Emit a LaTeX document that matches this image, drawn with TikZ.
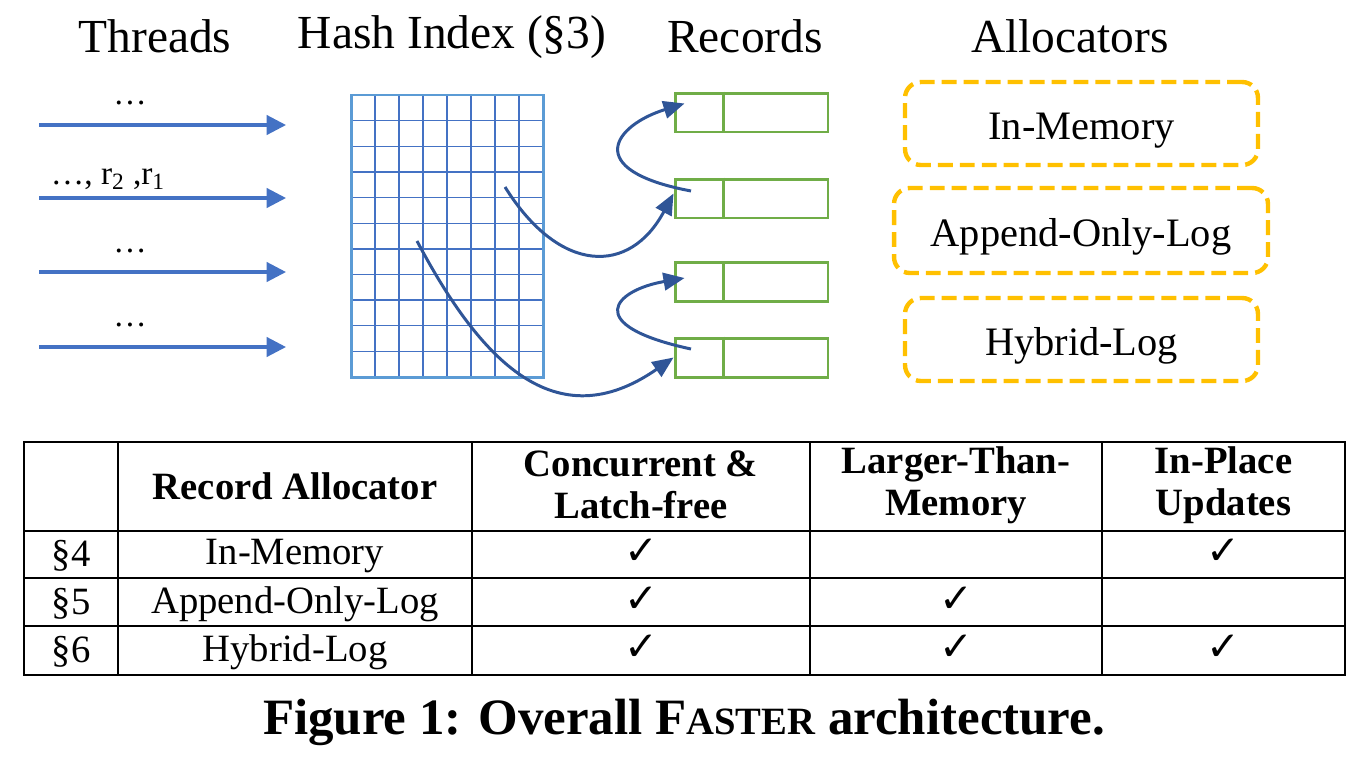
\documentclass[tikz,border=0pt]{standalone}
\usepackage{fontspec}
\setmainfont{Liberation Serif}
\newfontfamily\symfont{DejaVu Sans}
\usetikzlibrary{arrows.meta,calc}
\definecolor{threadblue}{HTML}{4472C4}
\definecolor{gridblue}{HTML}{5B9BD5}
\definecolor{linkblue}{HTML}{2F5597}
\definecolor{recgreen}{HTML}{70AD47}
\definecolor{allocgold}{HTML}{FFC000}
\newcommand{\tick}{{\symfont\bfseries\fontsize{23}{26}\selectfont ✓}}
\begin{document}
\begin{tikzpicture}[x=0.02cm,y=-0.02cm,
  title/.style={font=\fontsize{27}{32}\selectfont},
  thread/.style={draw=threadblue,line width=1.8pt,-{Triangle[length=11pt,width=11pt]}},
  link/.style={draw=linkblue,line width=1.7pt,-{Triangle[length=12pt,width=10pt]}},
  record/.style={draw=recgreen,line width=1.7pt,minimum width=3.06cm,minimum height=0.78cm,inner sep=0pt},
  alloc/.style={draw=allocgold,line width=2.5pt,dash pattern=on 8.5pt off 4pt,rounded corners=9pt,
    minimum width=7.06cm,minimum height=1.66cm,text height=18pt,text depth=0pt,
    font=\fontsize{23}{27}\selectfont},
  cell/.style={font=\fontsize{22}{24}\selectfont,align=center},
  head/.style={cell,font=\fontsize{22}{24}\selectfont\bfseries}]
\useasboundingbox (0,0) rectangle (1364,768);
% titles
\node[title] (tthreads) at (155,36) {Threads};
\node[title] (thash) at (452,37) {Hash Index (§3)};
\node[title] (trecords) at (745,36) {Records};
\node[title] (talloc) at (1070,36) {Allocators};
% threads
\foreach \y [count=\i] in {125,198,272,347} {
  \coordinate (tin\i) at (39,\y);
  \coordinate (tout\i) at (286,\y);
  \draw[thread] (tin\i) -- (tout\i);
}
\node[font=\fontsize{19}{22}\selectfont] (l1) at (130,103) {…};
\node[font=\fontsize{19}{22}\selectfont] (l2) at (108,179) {…, r\textsubscript{2} ,r\textsubscript{1}};
\node[font=\fontsize{19}{22}\selectfont] (l3) at (130,251) {…};
\node[font=\fontsize{19}{22}\selectfont] (l4) at (130,325) {…};
% hash index
\foreach \i in {1,...,7}
  \draw[threadblue,line width=0.8pt] (351+\i*24,95) -- (351+\i*24,377);
\foreach \j in {1,...,10}
  \draw[threadblue,line width=0.8pt] (351,95+\j*25.64) -- (543,95+\j*25.64);
\draw[gridblue,line width=1.7pt] (351,95) rectangle (543,377);
% records
\node[record] (rec1) at (751.5,112.5) {};
\node[record] (rec2) at (751.5,198.5) {};
\node[record] (rec3) at (751.5,282) {};
\node[record] (rec4) at (751.5,357.5) {};
\foreach \r in {rec1,rec2,rec3,rec4}
  \draw[recgreen,line width=1.7pt] ($(\r.north west)+(50,0)$) -- ($(\r.south west)+(50,0)$);
% pointers
\coordinate (h1) at (505,187);
\coordinate (h2) at (417,241);
\coordinate (p2) at (691,191);
\coordinate (p4) at (691,349);
\draw[link] (h1) .. controls (560,275) and (630,275) .. ($(rec2.west)+(0,-5)$);
\draw[link] (h2) .. controls (480,360) and (555,440) .. (rec4.west);
\draw[link] (p2) .. controls (580,170) and (615,125) .. ($(rec1.west)+(11,-9)$);
\draw[link] (p4) .. controls (580,325) and (615,290) .. ($(rec3.west)+(11,-4)$);
% allocators
\node[alloc] (amem) at (1081.5,123.5) {In-Memory};
\node[alloc,minimum width=7.48cm,minimum height=1.7cm] (aapp) at (1081,230.5) {Append-Only-Log};
\node[alloc] (ahyb) at (1081.5,339.5) {Hybrid-Log};
% table
\draw[line width=1.1pt] (24,442) rectangle (1345,675);
\foreach \y in {531,578,626}
  \draw[line width=1.1pt] (24,\y) -- (1345,\y);
\foreach \x in {118,472,810,1102}
  \draw[line width=1.1pt] (\x,442) -- (\x,675);
\node[head] (hrec) at (295,486) {Record Allocator};
\node[head] (hcon) at (641,485) {Concurrent \&\\Latch-free};
\node[head] (hlar) at (956,485) {Larger-Than-\\Memory};
\node[head] (hinp) at (1223.5,485) {In-Place\\Updates};
\node[cell] (s4) at (71,556) {§4};
\node[cell] (s5) at (71,604) {§5};
\node[cell] (s6) at (71,652) {§6};
\node[cell] (n4) at (295,556) {In-Memory};
\node[cell] (n5) at (295,604) {Append-Only-Log};
\node[cell] (n6) at (295,652) {Hybrid-Log};
\node (c41) at (641,552) {\tick};
\node (c43) at (1223.5,552) {\tick};
\node (c51) at (641,600) {\tick};
\node (c52) at (956,600) {\tick};
\node (c61) at (641,648) {\tick};
\node (c62) at (956,648) {\tick};
\node (c63) at (1223.5,648) {\tick};
% caption
\node[font=\fontsize{29}{33}\selectfont\bfseries] (cap) at (684,722)
  {Figure 1: Overall F{\fontsize{22}{25}\selectfont ASTER} architecture.};
\end{tikzpicture}
\end{document}
